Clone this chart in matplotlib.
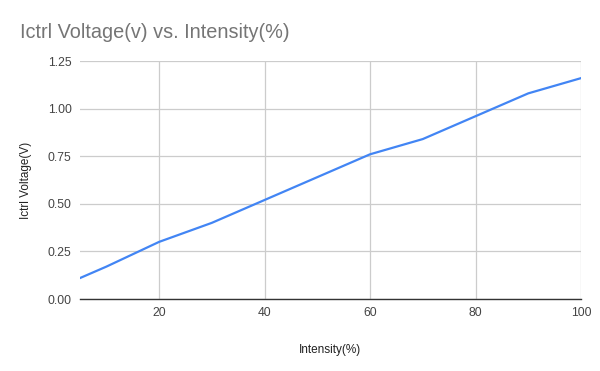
import matplotlib.pyplot as plt

# Intensity (%) vs. Ictrl voltage (V)
intensity = [5, 10, 20, 30, 40, 50, 60, 70, 80, 90, 100]
voltage = [0.11, 0.17, 0.30, 0.40, 0.52, 0.64, 0.76, 0.84, 0.96, 1.08, 1.16]

x_ticks = [20, 40, 60, 80, 100]
y_ticks = [0.0, 0.25, 0.5, 0.75, 1.0, 1.25]

plt.rcParams['font.family'] = ['Liberation Sans', 'DejaVu Sans']

fig = plt.figure(figsize=(6, 3.71), dpi=100)
ax = fig.add_axes([80 / 600, 1 - 299 / 371, 501 / 600, 238 / 371])

ax.plot(intensity, voltage, color='#4285F4', linewidth=1.6, zorder=3)

ax.set_xlim(5, 100)
ax.set_ylim(0, 1.25)
ax.set_xticks(x_ticks)
ax.set_yticks(y_ticks)
ax.set_yticklabels([f'{v:.2f}' for v in y_ticks])

ax.grid(True, color='#cccccc', linewidth=0.9, zorder=0)
for side in ['top', 'right', 'left']:
    ax.spines[side].set_visible(False)
ax.spines['bottom'].set_color('#333333')
ax.spines['bottom'].set_linewidth(1.0)
ax.spines['bottom'].set_zorder(4)
ax.tick_params(length=0, labelsize=8.7, colors='#444444', pad=6)

ax.set_xlabel('Intensity(%)', fontsize=8.5, color='#222222', labelpad=17.5)
ax.set_ylabel('Ictrl Voltage(V)', fontsize=8.5, color='#222222', labelpad=11.5)

fig.text(20 / 600, 1 - 32 / 371, 'Ictrl Voltage(v) vs. Intensity(%)',
         fontsize=14.3, color='#757575', va='center', ha='left')

fig.savefig('out.png', dpi=100)
